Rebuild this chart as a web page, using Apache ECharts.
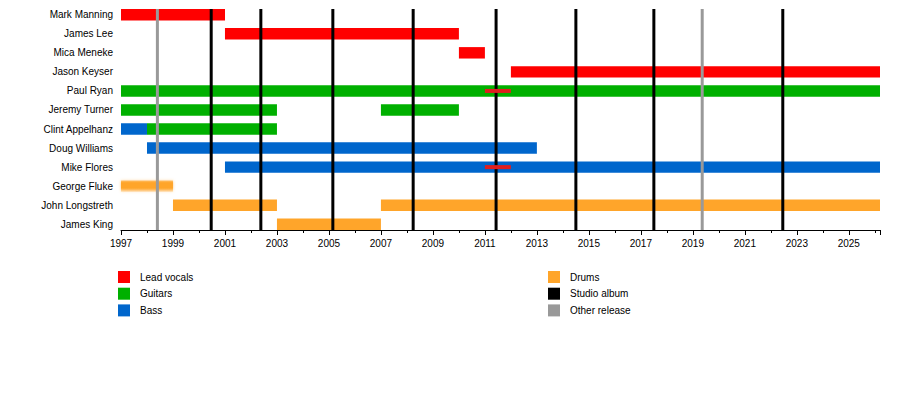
<!DOCTYPE html>
<html>
<head>
<meta charset="utf-8">
<script src="https://cdn.jsdelivr.net/npm/echarts@6/dist/echarts.min.js"></script>
<style>
html,body{margin:0;padding:0;background:#fff;}
#chart{width:900px;height:408px;}
</style>
</head>
<body>
<div id="chart"></div>
<script>
// ---- data ----
var members = ["Mark Manning", "James Lee", "Mica Meneke", "Jason Keyser", "Paul Ryan", "Jeremy Turner",
  "Clint Appelhanz", "Doug Williams", "Mike Flores", "George Fluke", "John Longstreth", "James King"];
var END = 2026.2;
// [rowIndex, start, end]
var vocals = [[0, 1997, 2001], [1, 2001, 2010], [2, 2010, 2011], [3, 2012, END]];
var guitars = [[4, 1997, END], [5, 1997, 2003], [5, 2007, 2010], [6, 1998, 2003]];
var bass = [[6, 1997, 1998], [7, 1998, 2013], [8, 2001, END]];
var drums = [[10, 1999, 2003], [10, 2007, END], [11, 2003, 2007]];
var drumsUncertain = [[9, 1997, 1999]];
var vocalsSecondary = [[4, 2011, 2012], [8, 2011, 2012]];
var studioAlbums = [2000.47, 2002.38, 2005.15, 2008.24, 2011.43, 2014.5, 2017.5, 2022.46];
var otherReleases = [1998.4, 2019.36];
var labelYears = [1997, 1999, 2001, 2003, 2005, 2007, 2009, 2011, 2013, 2015, 2017, 2019, 2021, 2023, 2025];

var FONT = '"Liberation Sans", Arial, sans-serif';
var C = {vocals: '#ff0000', guitars: '#00b000', bass: '#0066cc', drums: '#ffa52a', album: '#000000', other: '#999999', stripe: '#e01e1e'};

function barRenderer(frac, fuzzy) {
  return function (params, api) {
    var row = api.value(0), s = api.value(1), e = api.value(2);
    var p0 = api.coord([s, row]);
    var p1 = api.coord([e, row]);
    var h = api.size([0, 1])[1] * frac;
    var color = api.visual('color');
    var style = {fill: color};
    if (fuzzy) {
      style = {
        fill: new echarts.graphic.LinearGradient(0, 0, 0, 1, [
          {offset: 0, color: 'rgba(255,165,42,0.55)'},
          {offset: 0.2, color: 'rgba(255,165,42,1)'},
          {offset: 0.65, color: 'rgba(255,165,42,1)'},
          {offset: 1, color: 'rgba(255,165,42,0.15)'}
        ]),
        shadowBlur: 3, shadowColor: 'rgba(255,165,42,0.6)'
      };
    }
    return {type: 'rect', shape: {x: p0[0], y: p0[1] - h / 2, width: p1[0] - p0[0], height: h}, style: style};
  };
}
function lineRenderer(params, api) {
  var x = api.coord([api.value(0), 0])[0];
  var cs = params.coordSys;
  return {type: 'line', shape: {x1: x, y1: cs.y, x2: x, y2: cs.y + cs.height},
    style: {stroke: api.visual('color'), lineWidth: 3}};
}
function barSeries(name, data, color, frac, z, fuzzy) {
  return {type: 'custom', name: name, data: data, renderItem: barRenderer(frac, fuzzy),
    itemStyle: {color: color}, encode: {x: [1, 2], y: 0}, z: z, silent: true, clip: false};
}
function lineSeries(name, vals, color) {
  return {type: 'custom', name: name, data: vals.map(function (v) { return [v, 0]; }),
    renderItem: lineRenderer, itemStyle: {color: color}, encode: {x: 0, y: 1}, z: 3, silent: true};
}

var chart = echarts.init(document.getElementById('chart'), null, {renderer: 'svg'});
var legendCommon = {
  orient: 'vertical', top: 271, itemWidth: 12, itemHeight: 12, itemGap: 4.7, icon: 'rect',
  padding: 0, selectedMode: false,
  textStyle: {fontFamily: FONT, fontSize: 10, color: '#000', padding: [0, 0, 0, 5]}
};
chart.setOption({
  animation: false,
  backgroundColor: '#fff',
  textStyle: {fontFamily: FONT},
  grid: {left: 121, right: 20, top: 9, height: 221, containLabel: false},
  legend: [
    Object.assign({left: 118, data: ['Lead vocals', 'Guitars', 'Bass']}, legendCommon),
    Object.assign({left: 548, data: ['Drums', 'Studio album', 'Other release']}, legendCommon)
  ],
  xAxis: [{
    type: 'value', min: 1997, max: END, position: 'bottom',
    axisLine: {show: true, onZero: false, lineStyle: {color: '#000', width: 1}},
    axisTick: {show: true, length: 5, lineStyle: {color: '#000'}, customValues: labelYears.concat([END])},
    axisLabel: {customValues: labelYears, color: '#000', fontSize: 10, fontFamily: FONT, margin: 8,
      formatter: function (v) { return String(v); }},
    splitLine: {show: false}
  }, {
    type: 'value', min: 1997, max: END, interval: 1, position: 'bottom',
    axisLine: {show: false, onZero: false},
    axisTick: {show: true, length: 3, lineStyle: {color: '#000'}},
    axisLabel: {show: false},
    splitLine: {show: false}
  }],
  yAxis: {
    type: 'value', inverse: true, min: -0.3, max: 11.3,
    axisLine: {show: false, onZero: false}, axisTick: {show: false}, splitLine: {show: false},
    axisLabel: {customValues: members.map(function (m, i) { return i; }), color: '#000', fontSize: 10,
      fontFamily: FONT, margin: 8, formatter: function (v) { return members[Math.round(v)] || ''; }}
  },
  series: [
    barSeries('Lead vocals', vocals, C.vocals, 0.6, 2),
    barSeries('Guitars', guitars, C.guitars, 0.6, 2),
    barSeries('Bass', bass, C.bass, 0.6, 2),
    barSeries('Drums', drums, C.drums, 0.6, 2),
    barSeries('Drums', drumsUncertain, C.drums, 0.6, 2, true),
    lineSeries('Studio album', studioAlbums, C.album),
    lineSeries('Other release', otherReleases, C.other),
    barSeries('Lead vocals', vocalsSecondary, C.stripe, 0.21, 4)
  ]
});
</script>
</body>
</html>
